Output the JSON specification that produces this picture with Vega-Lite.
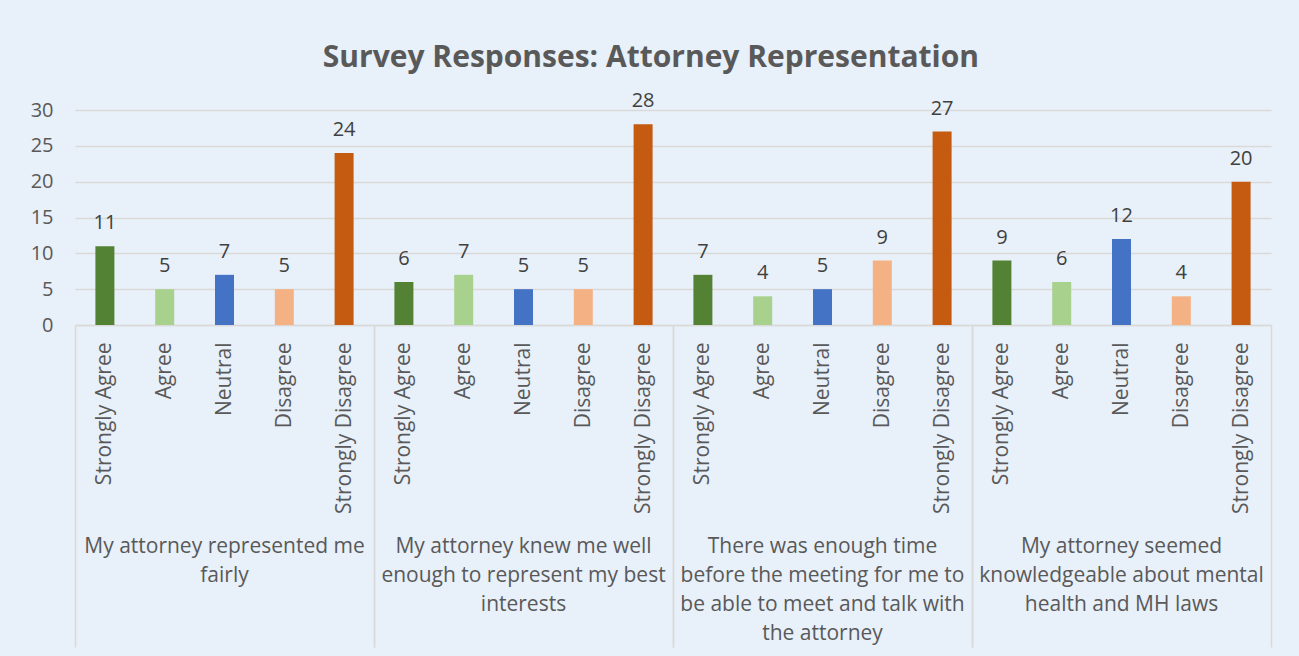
{
  "$schema": "https://vega.github.io/schema/vega-lite/v6.json",
  "background": "#e8f0f9",
  "padding": {"left": 30, "top": 43, "right": 30, "bottom": 12},
  "title": {
    "text": "Survey Responses: Attorney Representation",
    "fontSize": 30,
    "font": "Open Sans",
    "fontWeight": "bold",
    "color": "#595959",
    "anchor": "middle",
    "offset": 18
  },
  "data": {
    "values": [
      {"question": "My attorney represented me fairly", "response": "Strongly Agree", "count": 11},
      {"question": "My attorney represented me fairly", "response": "Agree", "count": 5},
      {"question": "My attorney represented me fairly", "response": "Neutral", "count": 7},
      {"question": "My attorney represented me fairly", "response": "Disagree", "count": 5},
      {"question": "My attorney represented me fairly", "response": "Strongly Disagree", "count": 24},
      {"question": "My attorney knew me well enough to represent my best interests", "response": "Strongly Agree", "count": 6},
      {"question": "My attorney knew me well enough to represent my best interests", "response": "Agree", "count": 7},
      {"question": "My attorney knew me well enough to represent my best interests", "response": "Neutral", "count": 5},
      {"question": "My attorney knew me well enough to represent my best interests", "response": "Disagree", "count": 5},
      {"question": "My attorney knew me well enough to represent my best interests", "response": "Strongly Disagree", "count": 28},
      {"question": "There was enough time before the meeting for me to be able to meet and talk with the attorney", "response": "Strongly Agree", "count": 7},
      {"question": "There was enough time before the meeting for me to be able to meet and talk with the attorney", "response": "Agree", "count": 4},
      {"question": "There was enough time before the meeting for me to be able to meet and talk with the attorney", "response": "Neutral", "count": 5},
      {"question": "There was enough time before the meeting for me to be able to meet and talk with the attorney", "response": "Disagree", "count": 9},
      {"question": "There was enough time before the meeting for me to be able to meet and talk with the attorney", "response": "Strongly Disagree", "count": 27},
      {"question": "My attorney seemed knowledgeable about mental health and MH laws", "response": "Strongly Agree", "count": 9},
      {"question": "My attorney seemed knowledgeable about mental health and MH laws", "response": "Agree", "count": 6},
      {"question": "My attorney seemed knowledgeable about mental health and MH laws", "response": "Neutral", "count": 12},
      {"question": "My attorney seemed knowledgeable about mental health and MH laws", "response": "Disagree", "count": 4},
      {"question": "My attorney seemed knowledgeable about mental health and MH laws", "response": "Strongly Disagree", "count": 20}
    ]
  },
  "facet": {
    "column": {
      "field": "question",
      "type": "nominal",
      "sort": [
        "My attorney represented me fairly",
        "My attorney knew me well enough to represent my best interests",
        "There was enough time before the meeting for me to be able to meet and talk with the attorney",
        "My attorney seemed knowledgeable about mental health and MH laws"
      ],
      "header": {
        "title": null,
        "labelOrient": "bottom",
        "labelFont": "Open Sans",
        "labelFontSize": 21,
        "labelColor": "#595959",
        "labelLineHeight": 29,
        "labelLimit": 400,
        "labelPadding": -112,
        "labelBaseline": "top",
        "labelExpr": "datum.value == 'My attorney represented me fairly' ? ['My attorney represented me', 'fairly'] : datum.value == 'My attorney knew me well enough to represent my best interests' ? ['My attorney knew me well', 'enough to represent my best', 'interests'] : datum.value == 'My attorney seemed knowledgeable about mental health and MH laws' ? ['My attorney seemed', 'knowledgeable about mental', 'health and MH laws'] : ['There was enough time', 'before the meeting for me to', 'be able to meet and talk with', 'the attorney']"
      }
    }
  },
  "spacing": 0,
  "spec": {
    "width": 299,
    "height": 215,
    "encoding": {
      "x": {
        "field": "response",
        "type": "nominal",
        "sort": ["Strongly Agree", "Agree", "Neutral", "Disagree", "Strongly Disagree"],
        "scale": {"paddingInner": 0, "paddingOuter": 0},
        "title": null,
        "axis": {
          "labelAngle": -90,
          "labelFont": "Open Sans",
          "labelFontSize": 21,
          "labelColor": "#595959",
          "domainColor": "#d9d9d9",
          "domainWidth": 1.5,
          "tickBand": "extent",
          "tickSize": 322,
          "tickColor": "#d9d9d9",
          "tickWidth": 1.5,
          "tickOpacity": {"condition": {"test": "datum.value === 'Strongly Disagree' || !isValid(datum.value)", "value": 1}, "value": 0},
          "labelPadding": -305
        }
      },
      "y": {
        "field": "count",
        "type": "quantitative",
        "scale": {"domain": [0, 30], "nice": false},
        "title": null,
        "axis": {
          "values": [0, 5, 10, 15, 20, 25, 30],
          "labelFont": "Open Sans",
          "labelFontSize": 20,
          "labelColor": "#595959",
          "labelPadding": 22,
          "ticks": false,
          "domain": false,
          "gridColor": "#d9d9d9",
          "gridWidth": 1.5
        }
      }
    },
    "layer": [
      {
        "mark": {"type": "bar", "width": 19},
        "encoding": {
          "color": {
            "field": "response",
            "type": "nominal",
            "scale": {
              "domain": ["Strongly Agree", "Agree", "Neutral", "Disagree", "Strongly Disagree"],
              "range": ["#548235", "#a9d18e", "#4472c4", "#f4b183", "#c55a11"]
            },
            "legend": null
          }
        }
      },
      {
        "mark": {"type": "text", "baseline": "alphabetic", "dy": -17, "font": "Open Sans", "fontSize": 20, "color": "#404040"},
        "encoding": {"text": {"field": "count", "type": "quantitative"}}
      }
    ]
  },
  "config": {
    "view": {"stroke": null},
    "font": "Open Sans"
  }
}
